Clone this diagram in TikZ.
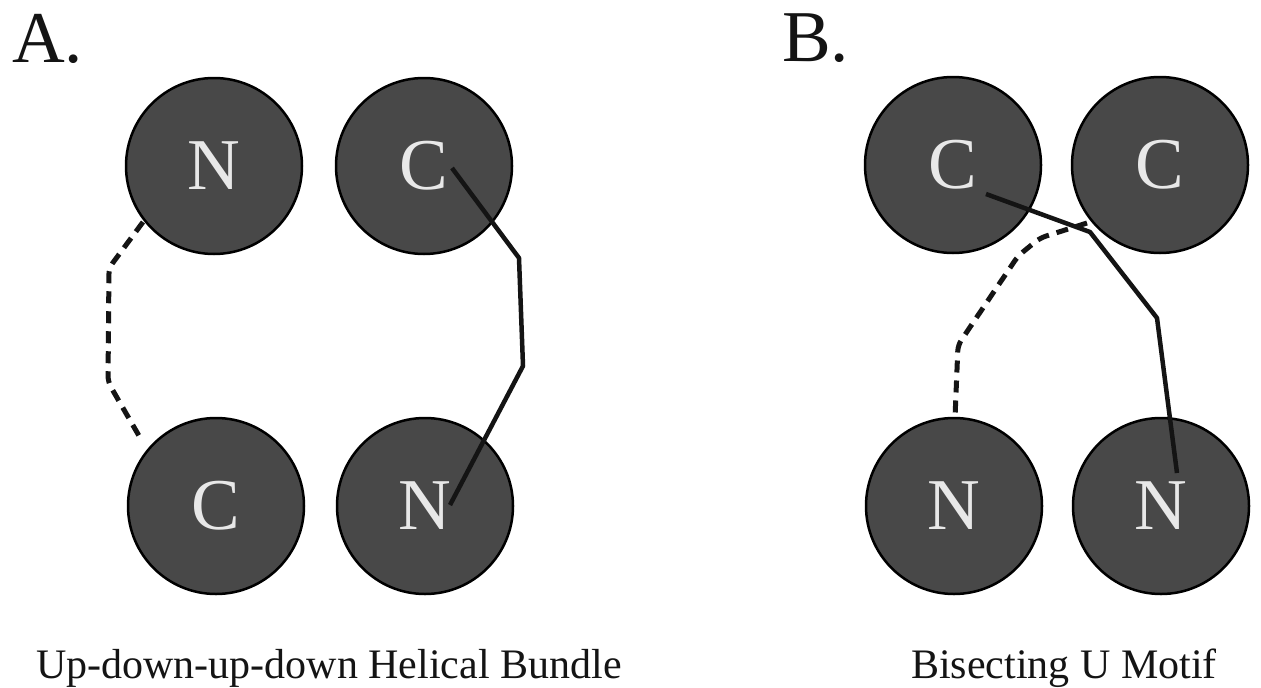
\documentclass[tikz,border=0pt]{standalone}
\usepackage{fontspec}
\setmainfont{Liberation Serif}
\definecolor{ballfill}{RGB}{72,72,72}
\definecolor{balltext}{RGB}{232,232,232}
\definecolor{inkcol}{RGB}{20,20,20}
\begin{document}
\begin{tikzpicture}[x=1pt,y=-1pt,
  ball/.style={circle,draw=black,line width=2.5pt,fill=ballfill,minimum size=176pt,inner sep=0pt,text=balltext,font=\fontsize{73}{80}\selectfont},
  panel/.style={anchor=base west,inner sep=0pt,text=inkcol,font=\fontsize{73}{80}\selectfont},
  caption/.style={anchor=base west,inner sep=0pt,text=inkcol,font=\fontsize{42}{48}\selectfont},
  loopline/.style={line width=4.5pt,line join=round,draw=inkcol},
  hbond/.style={line width=5pt,draw=inkcol,dash pattern=on 12pt off 8pt,rounded corners=6pt}]

\fill[white] (0,0) rectangle (1261,688);
\useasboundingbox (0,0) rectangle (1261,688);

% panel labels
\node[panel] (labA) at (12,62) {A.};
\node[panel] (labB) at (782,61) {B.};

% panel A
\node[ball] (aN1) at (214,166) {N};
\node[ball] (aC1) at (424,166) {C};
\node[ball] (aC2) at (216,506) {C};
\node[ball] (aN2) at (425,506) {N};

% panel B
\node[ball] (bC1) at (953,165) {C};
\node[ball] (bC2) at (1160,165) {C};
\node[ball] (bN1) at (954,506) {N};
\node[ball] (bN2) at (1161,506) {N};

% bend points
\coordinate (ad1) at (109,268);
\coordinate (ad2) at (108,382);
\coordinate (as1) at (519,258);
\coordinate (as2) at (523,366);
\coordinate (bs1) at (1090,232);
\coordinate (bs2) at (1157,318);
\coordinate (bd1) at (1040,238);
\coordinate (bd2) at (1018,256);
\coordinate (bd3) at (958,345);

% connectors panel A
\draw[hbond] ([shift={(-71,56)}]aN1.center) -- (ad1) -- (ad2) -- ([shift={(-74,-65)}]aC2.center);
\draw[loopline] ([shift={(28,2)}]aC1.center) -- (as1) -- (as2) -- ([shift={(25,-1)}]aN2.center);

% connectors panel B
\draw[hbond] ([shift={(-73,58)}]bC2.center) -- (bd1) -- (bd2) -- (bd3) -- ([shift={(1,-88)}]bN1.center);
\draw[loopline] ([shift={(33,29)}]bC1.center) -- (bs1) -- (bs2) -- ([shift={(16,-33)}]bN2.center);

% captions
\node[caption] (capA) at (36,678) {Up-down-up-down Helical Bundle};
\node[caption] (capB) at (911,678) {Bisecting U Motif};
\end{tikzpicture}
\end{document}
